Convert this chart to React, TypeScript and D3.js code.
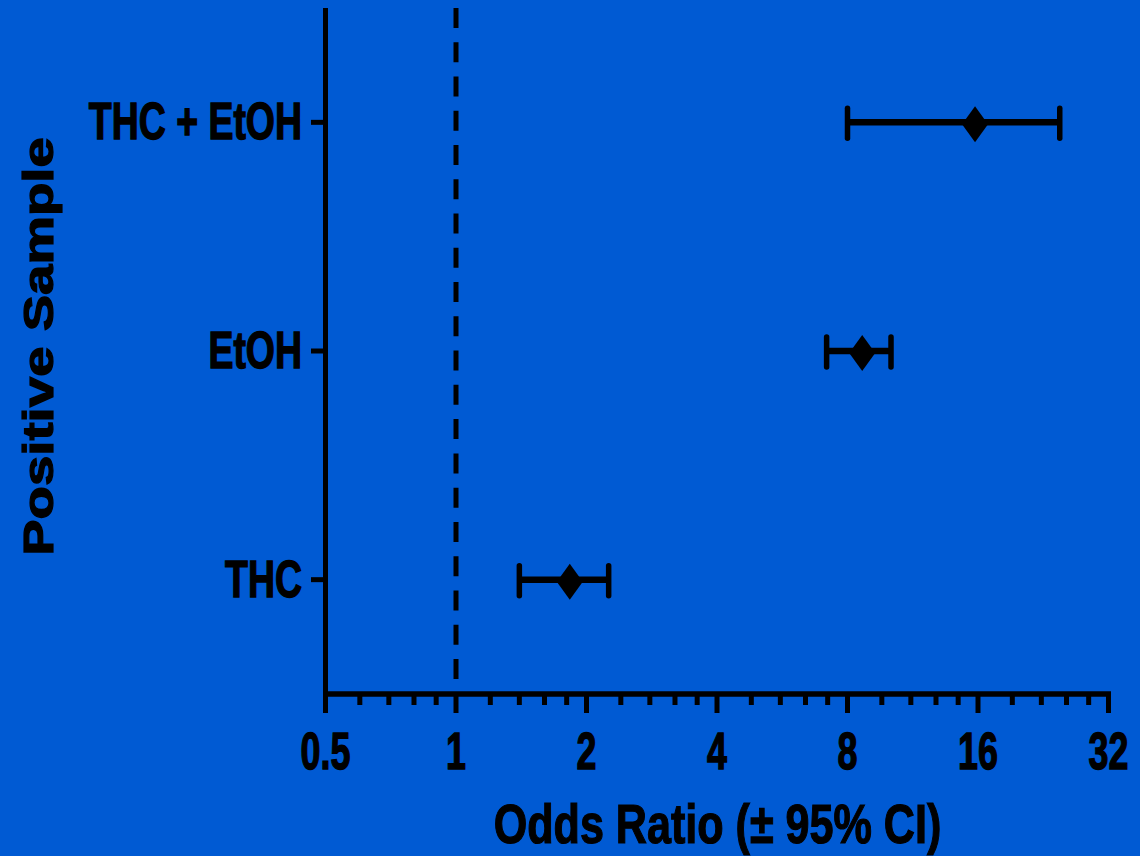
import React from "react";
import * as d3 from "d3";

const categories = ["THC + EtOH", "EtOH", "THC"];
const oddsRatio = [15.75, 8.65, 1.83];
const ciLow = [8.0, 7.16, 1.4];
const ciHigh = [24.7, 10.08, 2.25];
const majorTicks = [0.5, 1, 2, 4, 8, 16, 32];
const tickLabels = ["0.5", "1", "2", "4", "8", "16", "32"];
const minorSteps = [1.2, 1.4, 1.6, 1.8];
const refLine = 1;
const xTitle = "Odds Ratio (\u00B1 95% CI)";
const yTitle = "Positive Sample";

const W = 1140;
const H = 856;
const BG = "#005AD3";
const FONT = "'Liberation Sans', Arial, Helvetica, sans-serif";

export default function App() {
  const x = d3.scaleLog().base(2).domain([0.5, 32]).range([325.5, 1108.5]);
  const y = d3.scalePoint<string>().domain(categories).range([8, 694]).padding(0.5);
  const axisY = 694;
  const axisX = 325.5;

  const minorTicks: number[] = [];
  majorTicks.slice(0, -1).forEach((a) => minorSteps.forEach((m) => minorTicks.push(a * m)));

  const diamond = (cx: number, cy: number) =>
    `M${cx},${cy - 18} L${cx + 13},${cy} L${cx},${cy + 18} L${cx - 13},${cy} Z`;

  return (
    <svg
      width={W}
      height={H}
      style={{ position: "absolute", left: 0, top: 0, display: "block" }}
      fontFamily={FONT}
      fontWeight="bold"
    >
      <rect x={0} y={0} width={W} height={H} fill={BG} />

      {/* reference dashed line */}
      <line
        x1={x(refLine)}
        x2={x(refLine)}
        y1={8}
        y2={axisY}
        stroke="#000"
        strokeWidth={5}
        strokeDasharray="20 14.26"
      />

      {/* left axis */}
      <line x1={axisX} x2={axisX} y1={8} y2={axisY + 2.5} stroke="#000" strokeWidth={5} />
      {categories.map((c) => (
        <line key={"yt" + c} x1={311} x2={axisX} y1={y(c)!} y2={y(c)!} stroke="#000" strokeWidth={5} />
      ))}
      {categories.map((c) => (
        <text
          key={"yl" + c}
          transform={`translate(302,${y(c)! + 17}) scale(0.72,1)`}
          textAnchor="end"
          fontSize={52}
          fill="#000"
          stroke="#000"
          strokeWidth={1.4}
        >
          {c}
        </text>
      ))}

      {/* bottom axis */}
      <line x1={axisX - 2.5} x2={x(32) + 2.5} y1={axisY} y2={axisY} stroke="#000" strokeWidth={5.5} />
      {majorTicks.map((t) => (
        <line key={"mt" + t} x1={x(t)} x2={x(t)} y1={axisY} y2={713} stroke="#000" strokeWidth={5} />
      ))}
      {minorTicks.map((t) => (
        <line key={"mn" + t} x1={x(t)} x2={x(t)} y1={axisY} y2={705} stroke="#000" strokeWidth={5} />
      ))}
      {majorTicks.map((t, i) => (
        <text
          key={"tl" + t}
          transform={`translate(${x(t)},769) scale(0.69,1)`}
          textAnchor="middle"
          fontSize={52}
          fill="#000"
          stroke="#000"
          strokeWidth={1.4}
        >
          {tickLabels[i]}
        </text>
      ))}

      {/* error bars */}
      {categories.map((c, i) => {
        const cy = y(c)!;
        return (
          <g key={"eb" + c}>
            <line x1={x(ciLow[i])} x2={x(ciHigh[i])} y1={cy} y2={cy} stroke="#000" strokeWidth={6.5} />
            <line
              x1={x(ciLow[i])}
              x2={x(ciLow[i])}
              y1={cy - 14}
              y2={cy + 16}
              stroke="#000"
              strokeWidth={5.5}
              strokeLinecap="round"
            />
            <line
              x1={x(ciHigh[i])}
              x2={x(ciHigh[i])}
              y1={cy - 14}
              y2={cy + 16}
              stroke="#000"
              strokeWidth={5.5}
              strokeLinecap="round"
            />
            <path d={diamond(x(oddsRatio[i]), cy + 2)} fill="#000" />
          </g>
        );
      })}

      {/* axis titles */}
      <text
        transform={`translate(717.5,843) scale(0.77,1)`}
        textAnchor="middle"
        fontSize={56}
        fill="#000"
        stroke="#000"
        strokeWidth={1.2}
      >
        {xTitle}
      </text>
      <text
        transform={`translate(53,346.5) rotate(-90) scale(1.27,1)`}
        textAnchor="middle"
        fontSize={43}
        fill="#000"
        stroke="#000"
        strokeWidth={1.2}
      >
        {yTitle}
      </text>
    </svg>
  );
}
